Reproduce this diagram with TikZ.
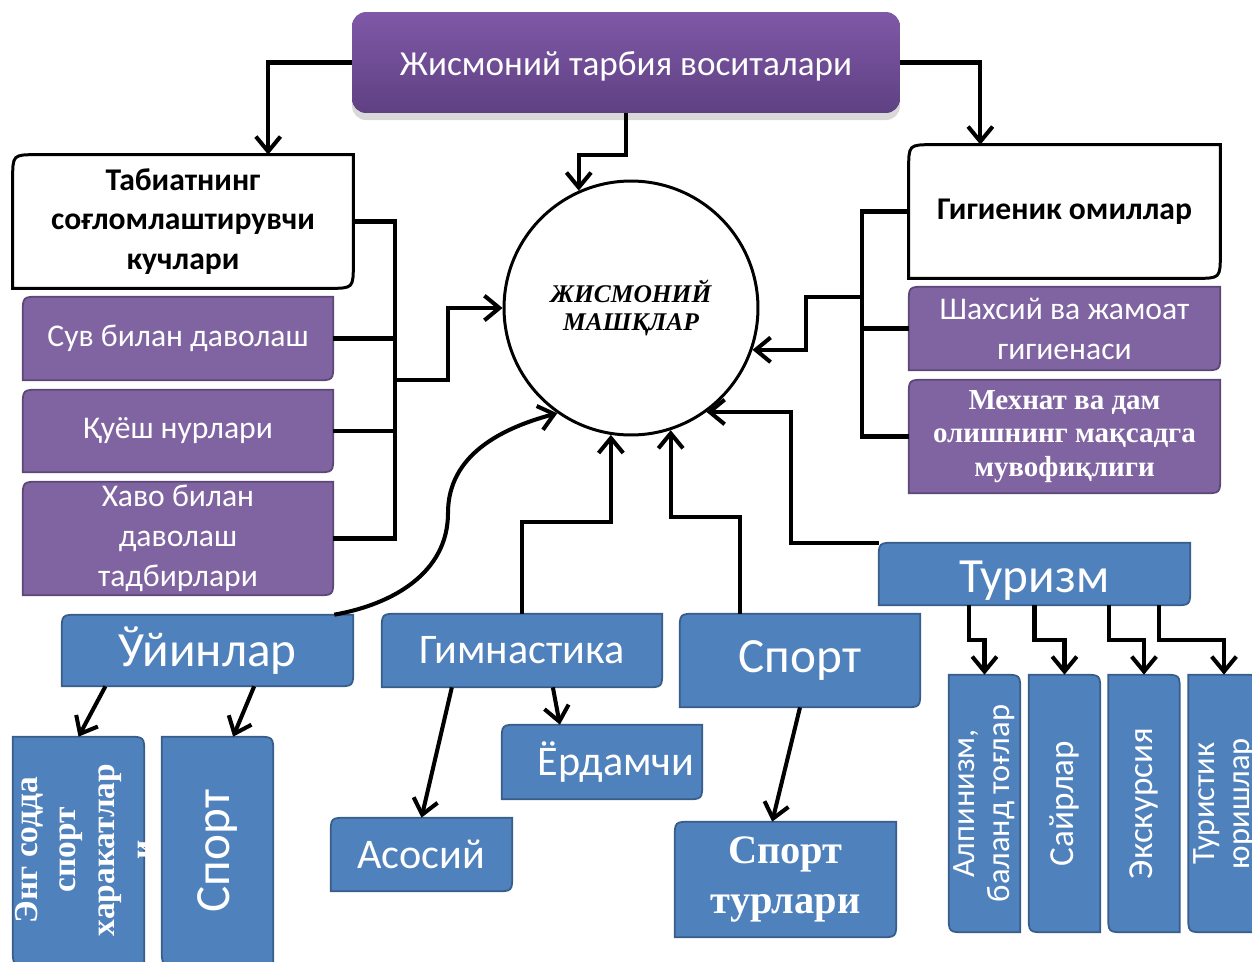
\documentclass[tikz,border=0pt]{standalone}
\usepackage{fontspec}
\setmainfont{Carlito}
\newfontfamily\timesf{Liberation Serif}
\usetikzlibrary{arrows.meta,calc,backgrounds,shadows}

\definecolor{purp}{HTML}{8064A2}
\definecolor{purpD}{HTML}{5C4776}
\definecolor{blu}{HTML}{4F81BD}
\definecolor{bluD}{HTML}{385D8A}
\definecolor{topT}{HTML}{7F58A7}
\definecolor{topB}{HTML}{5F4183}

\tikzset{
    conn/.style={line width=2.3pt},
    arr/.style={line width=2.3pt, -{Straight Barb[length=8.5pt,width=14pt]}},
    topbox/.style={rounded corners=8pt, top color=topT, bottom color=topB, text=white,
        drop shadow={opacity=0.3, shadow xshift=0pt, shadow yshift=-4pt},
        font=\fontsize{20}{24}\selectfont},
    wbox/.style={inner sep=0pt, align=center, font=\fontsize{18}{22.7}\selectfont\bfseries},
    pbox/.style={inner sep=0pt, align=center, text=white, font=\fontsize{18}{22.7}\selectfont},
    bbox/.style={inner sep=0pt, align=center, text=white},
    wshape/.style={fill=white, draw=black, line width=1.7pt},
    pshape/.style={fill=purp, draw=purpD, line width=1pt},
    bshape/.style={fill=blu, draw=bluD, line width=1pt}
}

\newcommand{\dbox}[3]{%
    \path[#2] ($(#1.north west)!#3!(#1.south west)$)
        .. controls (#1.north west) .. ($(#1.north west)!#3!(#1.north east)$)
        -- (#1.north east)
        -- ($(#1.south east)!#3!(#1.north east)$)
        .. controls (#1.south east) .. ($(#1.south east)!#3!(#1.south west)$)
        -- (#1.south west) -- cycle;}

\begin{document}
\begin{tikzpicture}[x=0.02cm, y=0.02cm]
            \useasboundingbox (0,0) rectangle (1252,-961);

            \node[topbox, minimum width=10.96cm, minimum height=2.02cm, text height=18pt] (top) at (626,-62.5) {Жисмоний тарбия воситалари};
            \node[draw, shape=circle, line width=1.7pt, minimum size=5.08cm, inner sep=0pt, align=center, font=\timesf\bfseries\itshape\fontsize{14.5}{16}\selectfont] (circ) at (631,-308) {ЖИСМОНИЙ\\МАШҚЛАР};

            \node[wbox, minimum width=6.8cm, minimum height=2.66cm] (nat) at (183,-221.5) {Табиатнинг\\соғломлаштирувчи\\кучлари};
            \node[pbox, minimum width=6.2cm, minimum height=1.66cm] (suv) at (178,-338.5) {Сув билан даволаш};
            \node[pbox, minimum width=6.2cm, minimum height=1.64cm] (quyosh) at (178,-431) {Қуёш нурлари};
            \node[pbox, minimum width=6.2cm, minimum height=2.26cm] (havo) at (178,-538.5) {Хаво билан\\даволаш\\тадбирлари};

            \node[wbox, minimum width=6.22cm, minimum height=2.66cm] (hyg) at (1064.5,-211.5) {Гигиеник омиллар};
            \node[pbox, minimum width=6.22cm, minimum height=1.66cm] (shax) at (1064.5,-328.5) {Шахсий ва жамоат\\гигиенаси};
            \node[pbox, minimum width=6.22cm, minimum height=2.26cm, font=\timesf\bfseries\fontsize{16.5}{19}\selectfont] (mehnat) at (1064.5,-436.5) {Мехнат ва дам\\олишнинг мақсадга\\мувофиқлиги};

            \node[bbox, minimum width=5.82cm, minimum height=1.42cm, font=\fontsize{28}{32}\selectfont] (oyin) at (207.5,-650.5) {Ўйинлар};
            \node[bbox, minimum width=5.6cm, minimum height=1.46cm, font=\fontsize{24}{28}\selectfont] (gimn) at (522,-650.5) {Гимнастика};
            \node[bbox, minimum width=4.8cm, minimum height=1.86cm, font=\fontsize{28}{32}\selectfont] (sport) at (800,-660.5) {Спорт};
            \node[bbox, minimum width=6.22cm, minimum height=1.24cm, text height=25pt, font=\fontsize{28}{32}\selectfont] (turizm) at (1034.5,-574) {Туризм};
            \node[bbox, minimum width=3.62cm, minimum height=1.46cm, font=\fontsize{24}{28}\selectfont] (asos) at (421.5,-854.5) {Асосий};
            \node[bbox, minimum width=4cm, minimum height=1.48cm, font=\fontsize{24}{28}\selectfont] (yord) at (602,-762) {\hspace{16pt}Ёрдамчи};
            \node[bbox, minimum width=4.42cm, minimum height=2.3cm, font=\timesf\bfseries\fontsize{23}{28}\selectfont] (sturl) at (785.5,-879.5) {Спорт\\турлари};

            \node[bbox, rotate=90, minimum width=4.56cm, minimum height=2.62cm] (engs) at (78.5,-851) {};
            \node[bbox, rotate=90, font=\timesf\bfseries\fontsize{19}{22}\selectfont] (engstxt) at (84,-850) {Энг содда\\спорт\\харакатлар\\и};
            \node[bbox, rotate=90, minimum width=4.56cm, minimum height=2.22cm, font=\fontsize{28}{32}\selectfont] (spv) at (217.5,-851) {Спорт};
            \node[bbox, rotate=90, minimum width=5.14cm, minimum height=1.42cm, font=\fontsize{18.5}{20}\selectfont] (alp) at (984.5,-803.5) {Алпинизм,\\баланд тоғлар};
            \node[bbox, rotate=90, minimum width=5.14cm, minimum height=1.42cm, font=\fontsize{20}{24}\selectfont] (sayr) at (1064.5,-803.5) {Сайрлар};
            \node[bbox, rotate=90, minimum width=5.14cm, minimum height=1.42cm, font=\fontsize{20}{24}\selectfont] (eksk) at (1144,-803.5) {Экскурсия};
            \node[bbox, rotate=90, minimum width=5.14cm, minimum height=1.42cm, font=\fontsize{18.5}{20}\selectfont] (turi) at (1224,-803.5) {Туристик\\юришлар};

            \begin{scope}[on background layer]
                \foreach \n/\s/\r in {nat/wshape/14pt, hyg/wshape/14pt, suv/pshape/10pt, quyosh/pshape/10pt, havo/pshape/10pt,
                    shax/pshape/10pt, mehnat/pshape/10pt, oyin/bshape/10pt, gimn/bshape/10pt, sport/bshape/10pt,
                    turizm/bshape/10pt, asos/bshape/10pt, yord/bshape/10pt, sturl/bshape/10pt, engs/bshape/10pt,
                    spv/bshape/10pt, alp/bshape/10pt, sayr/bshape/10pt, eksk/bshape/10pt, turi/bshape/10pt}
                    \dbox{\n}{\s}{\r};
            \end{scope}

            \coordinate (lj) at (395,-380);
            \coordinate (rj) at (862,-297);
            \coordinate (cm) at (448,-513);

            \draw[arr] (top.west) -| ($(nat.north west)!0.75!(nat.north east)$);
            \draw[arr] (top.east) -| ($(hyg.north west)!0.23!(hyg.north east)$);
            \draw[arr] (top.south) -- ++(0,-42) -| (circ.114);

            \draw[conn] (nat.east) -- ++(42,0) |- (havo.east);
            \draw[conn] (suv.east) -- ++(62,0);
            \draw[conn] (quyosh.east) -- ++(62,0);
            \draw[arr] (lj) -- ++(53,0) |- (circ.west);

            \draw[conn] (hyg.west) -- ++(-47,0) |- (mehnat.west);
            \draw[conn] (shax.west) -- ++(-47,0);
            \draw[arr] (rj) -- ++(-56,0) |- (circ.-19);

            \draw[arr] ($(oyin.north east)+(-19,0)$) to[out=10,in=-90] (cm) to[out=90,in=195] (circ.235);
            \draw[arr] (gimn.north) -- ++(0,92) -| (circ.261);
            \draw[arr] ($(sport.north west)!0.25!(sport.north east)$) -- ++(0,97) -| (circ.288);
            \draw[arr] (turizm.north west) -- ++(-88,0) |- (circ.-54);

            \draw[arr] ($(oyin.south west)!0.15!(oyin.south east)$) -- (engs.east);
            \draw[arr] ($(oyin.south west)!0.66!(oyin.south east)$) -- ($(spv.north east)!0.64!(spv.south east)$);
            \draw[arr] ($(gimn.south west)!0.25!(gimn.south east)$) -- (asos.north);
            \draw[arr] ($(gimn.south west)!0.61!(gimn.south east)$) -- ($(yord.north west)!0.29!(yord.north east)$);
            \draw[arr] (sport.south) -- ($(sturl.north west)!0.44!(sturl.north east)$);

            \foreach \f/\n in {0.29/alp, 0.5/sayr, 0.74/eksk, 0.9/turi}
                \draw[arr] ($(turizm.south west)!\f!(turizm.south east)$) -- ++(0,-35) -| (\n.east);
\end{tikzpicture}
\end{document}
